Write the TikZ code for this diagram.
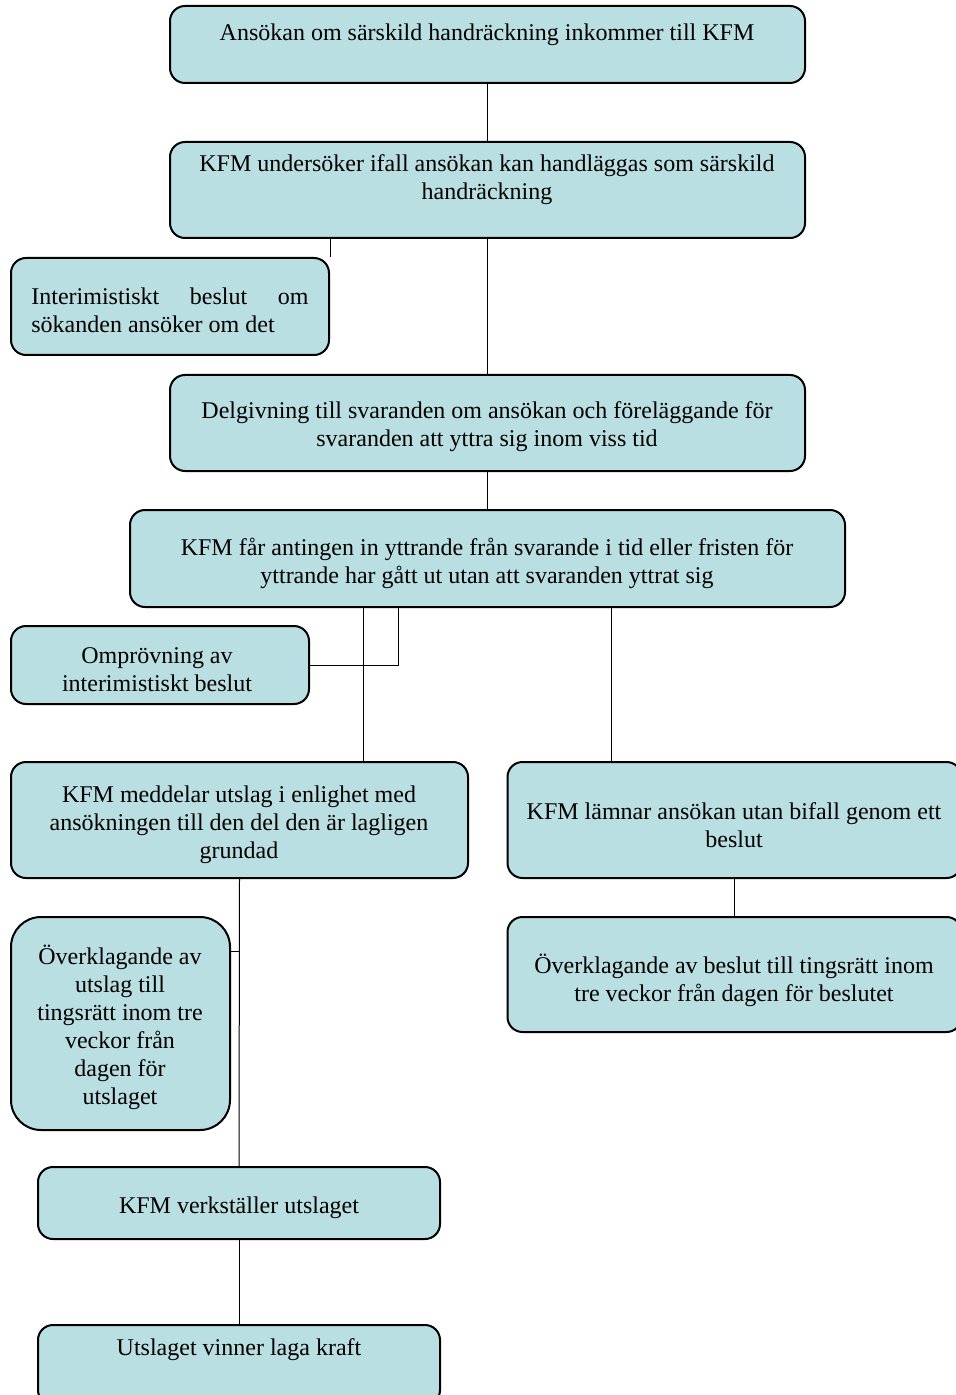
\documentclass[tikz,border=0pt]{standalone}
\usepackage{fontspec}
\setmainfont{Liberation Serif}
\definecolor{boxfill}{RGB}{186,223,226}
\begin{document}
\begin{tikzpicture}[x=0.5pt,y=-0.5pt,
  box/.style={draw=black,line width=1pt,fill=boxfill,rounded corners=7.5pt,rectangle,inner sep=0pt},
  txt/.style={align=center,inner sep=0pt,yshift=-1.5pt,font=\fontsize{12}{14}\selectfont},
  link/.style={draw=black,line width=0.5pt}]
\useasboundingbox (0,0) rectangle (956,1395);
% boxes
\node[box,minimum width=317.5pt,minimum height=38.5pt] (b1) at (487.5,44.5) {};
\node[box,minimum width=317.5pt,minimum height=48pt] (b2) at (487.5,190) {};
\node[box,minimum width=159pt,minimum height=48.5pt] (b3) at (170,306.5) {};
\node[box,minimum width=317.5pt,minimum height=48pt] (b4) at (487.5,423) {};
\node[box,minimum width=357.5pt,minimum height=48.5pt] (b5) at (487.5,558.5) {};
\node[box,minimum width=149pt,minimum height=39pt] (b6) at (160,665) {};
\node[box,minimum width=228.5pt,minimum height=58pt] (b7) at (239.5,820) {};
\node[box,minimum width=227pt,minimum height=58pt] (b8) at (734.5,820) {};
\node[box,rounded corners=15pt,minimum width=109.5pt,minimum height=106.5pt] (b9) at (120.5,1023.5) {};
\node[box,minimum width=227pt,minimum height=57.5pt] (b10) at (734.5,974.5) {};
\node[box,minimum width=201pt,minimum height=36pt] (b11) at (239,1203) {};
\node[box,minimum width=201pt,minimum height=40pt] (b12) at (239,1365) {};
% texts
\node[txt] (t1) at (487,32) {Ansökan om särskild handräckning inkommer till KFM};
\node[txt] (t2) at (487,177) {KFM undersöker ifall ansökan kan handläggas som särskild\\handräckning};
\node[txt,align=left,anchor=west] (t3) at (31,307.5) {\makebox[138.5pt][s]{Interimistiskt\hfill beslut\hfill om}\\sökanden ansöker om det};
\node[txt] (t4) at (487,423.5) {Delgivning till svaranden om ansökan och föreläggande för\\svaranden att yttra sig inom viss tid};
\node[txt] (t5) at (487,560) {KFM får antingen in yttrande från svarande i tid eller fristen för\\yttrande har gått ut utan att svaranden yttrat sig};
\node[txt] (t6) at (157,667) {Omprövning av\\interimistiskt beslut};
\node[txt] (t7) at (239,822) {KFM meddelar utslag i enlighet med\\ansökningen till den del den är lagligen\\grundad};
\node[txt] (t8) at (734,822) {KFM lämnar ansökan utan bifall genom ett\\beslut};
\node[txt] (t9) at (120,1024.5) {Överklagande av\\utslag till\\tingsrätt inom tre\\veckor från\\dagen för\\utslaget};
\node[txt] (t10) at (734,977) {Överklagande av beslut till tingsrätt inom\\tre veckor från dagen för beslutet};
\node[txt] (t11) at (239,1205) {KFM verkställer utslaget};
\node[txt] (t12) at (239,1347) {Utslaget vinner laga kraft};
% helper coordinates
\coordinate (j6) at (398,665);
\coordinate (x7) at (363,0);
\coordinate (x8) at (611,0);
\coordinate (k9) at (230,951);
% connectors
\draw[link] (b1.south) -- (b2.north);
\draw[link] (b2.south -| b3.east) -- (b3.north east);
\draw[link] (b2.south) -- (b4.north);
\draw[link] (b4.south) -- (b5.north);
\draw[link] (b5.south -| j6) -- (j6) -- (b6.east);
\draw[link] (b5.south -| x7) -- (b7.north -| x7);
\draw[link] (b5.south -| x8) -- (b8.north -| x8);
\draw[link] (b7.south) -- (b11.north);
\draw[link] (k9) -- (k9 -| b7.south);
\draw[link] (b8.south) -- (b10.north);
\draw[link] (b11.south) -- (b12.north);
\end{tikzpicture}
\end{document}
